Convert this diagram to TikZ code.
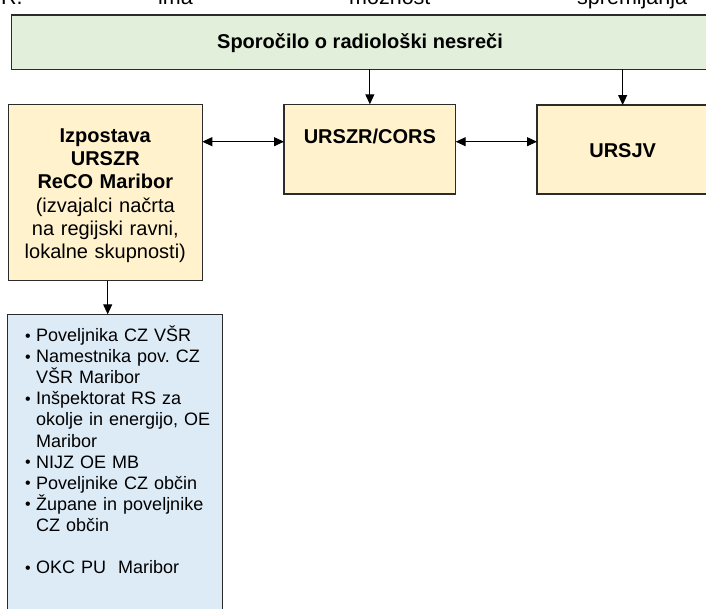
\documentclass[tikz,border=0pt]{standalone}
\usepackage{fontspec}
\setmainfont{Liberation Sans}
\usetikzlibrary{arrows.meta}
\frenchspacing
\definecolor{greenfill}{HTML}{E2EFDA}
\definecolor{beigefill}{HTML}{FFF2CC}
\definecolor{bluefill}{HTML}{DDEBF7}
\definecolor{edgecol}{HTML}{2B2B2B}
\newcommand{\mybul}{\makebox[11pt][l]{\raisebox{0.3pt}{\fontsize{16}{16}\selectfont •}}}
\newcommand{\myind}{\hspace*{11pt}}
\tikzset{
  box/.style={draw=edgecol, line width=1.3pt, inner sep=0pt, outer sep=0pt, anchor=north west},
  hdr/.style={font=\fontsize{20}{23.1}\selectfont\bfseries, inner sep=0pt},
  toptext/.style={font=\fontsize{21.5}{24}\selectfont, inner sep=0pt, anchor=base west},
  arr/.style={-{Triangle[length=10pt,width=9pt]}, line width=1pt, black},
  darr/.style={{Triangle[length=10pt,width=9pt]}-{Triangle[length=10pt,width=9pt]}, line width=1pt, black}
}
\begin{document}
\begin{tikzpicture}[x=1pt,y=-1pt]
\useasboundingbox (0,0) rectangle (706,608);
\clip (0,0) rectangle (706,608);
% cut-off text line at the top
\node[toptext] (t1) at (1,4) {R.};
\node[toptext] (t2) at (158,4) {ima};
\node[toptext] (t3) at (349,4) {možnost};
\node[toptext] (t4) at (577,4) {spremljanja};
% boxes
\node[box, fill=greenfill, minimum width=696.6pt, minimum height=54.3pt] (green) at (11.7,15) {};
\node[hdr] (greent) at (360,43) {Sporočilo o radiološki nesreči};
\node[box, fill=beigefill, minimum width=194pt, minimum height=176.4pt] (izp) at (8.3,104.3) {};
\node[hdr, anchor=base, text width=190pt, align=center] (izpt) at (105.3,142.7)
  {\textbf{Izpostava}\\\textbf{URSZR}\\\textbf{ReCO Maribor}\\\mdseries(izvajalci načrta\\\mdseries na regijski ravni,\\\mdseries lokalne skupnosti)};
\node[box, fill=beigefill, minimum width=171.7pt, minimum height=89.7pt] (cors) at (284,104.3) {};
\node[hdr] (corst) at (369.9,136.7) {URSZR/CORS};
\node[box, fill=beigefill, minimum width=171.3pt, minimum height=89pt] (ursjv) at (537,105) {};
\node[hdr] (ursjvt) at (622.7,151) {URSJV};
\node[box, fill=bluefill, minimum width=215.4pt, minimum height=320pt] (blue) at (7.3,314.3) {};
\node[anchor=base west, inner sep=0pt, text width=198pt, align=left,
      font=\fontsize{18}{21.06}\selectfont] (bluet) at (25,341.7)
  {\mybul Poveljnika CZ VŠR\\
   \mybul Namestnika pov. CZ\\
   \myind VŠR Maribor\\
   \mybul Inšpektorat RS za\\
   \myind okolje in energijo, OE\\
   \myind Maribor\\
   \mybul NIJZ OE MB\\
   \mybul Poveljnike CZ občin\\
   \mybul Župane in poveljnike\\
   \myind CZ občin\\
   \mbox{}\\
   \mybul OKC PU\ \ Maribor};
% connectors
\coordinate (rowy) at (0,141.7);
\draw[arr] (cors.north |- green.south) -- (cors.north);
\draw[arr] (ursjv.north |- green.south) -- (ursjv.north);
\draw[darr] (izp.east |- rowy) -- (cors.west |- rowy);
\draw[darr] (cors.east |- rowy) -- (ursjv.west |- rowy);
\draw[arr] (izp.south -| 107.7,0) -- (blue.north -| 107.7,0);
\end{tikzpicture}
\end{document}
